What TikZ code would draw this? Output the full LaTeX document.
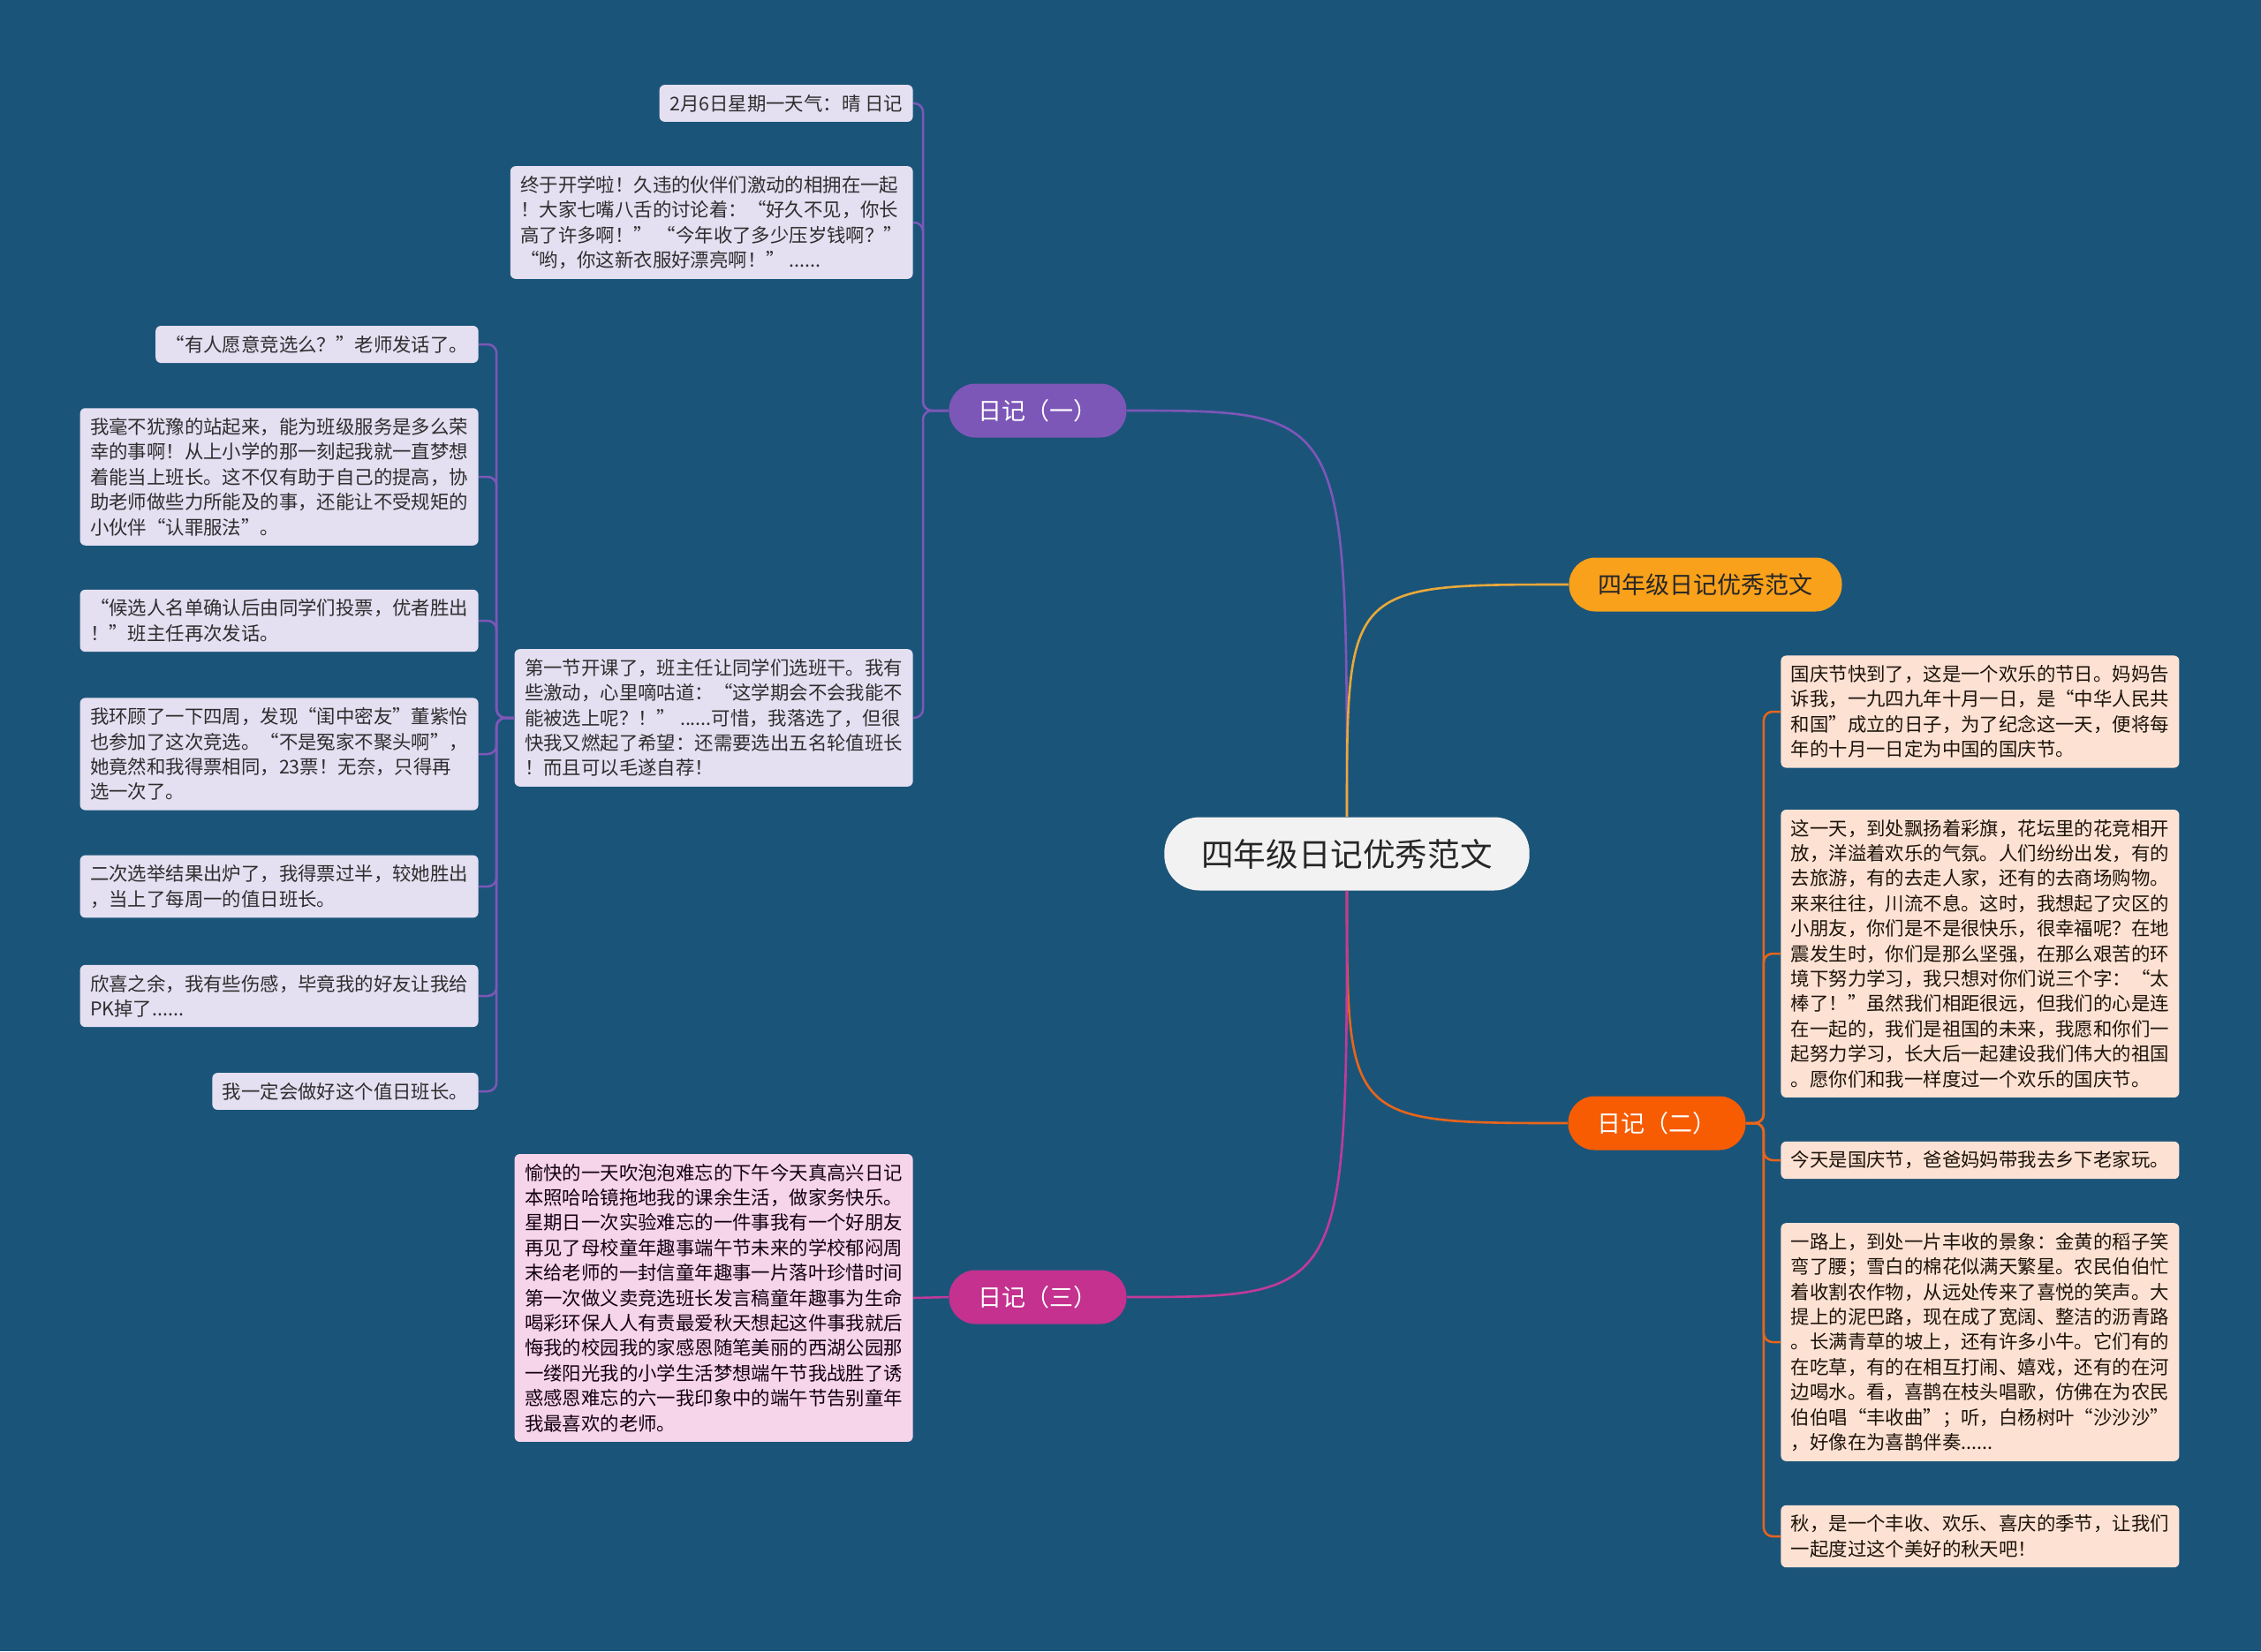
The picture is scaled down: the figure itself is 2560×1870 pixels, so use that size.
\documentclass[tikz,border=0pt]{standalone}
\usepackage{fontspec}
\setmainfont{Noto Sans CJK SC}
\definecolor{bg}{HTML}{1B5479}
\definecolor{rootfill}{HTML}{F2F2F2}
\definecolor{purp}{HTML}{7D57B8}
\definecolor{plight}{HTML}{E4DFF1}
\definecolor{yell}{HTML}{F9A11B}
\definecolor{yline}{HTML}{E9A93A}
\definecolor{oran}{HTML}{F75C03}
\definecolor{oline}{HTML}{E8651A}
\definecolor{olight}{HTML}{FDE2D4}
\definecolor{mag}{HTML}{C4318F}
\definecolor{mline}{HTML}{C13A9A}
\definecolor{mlight}{HTML}{F6D4EA}

\begin{document}
\begin{tikzpicture}[
  x=0.5pt, y=-0.5pt,
  root/.style={fill=rootfill, text=black!85, rounded corners=20pt, minimum height=41.5pt,
               inner xsep=21pt, font=\fontsize{18.3}{22}\selectfont},
  branch/.style={rounded corners=15pt, minimum height=30.5pt, inner xsep=16.5pt,
                 text=white, font=\fontsize{13.5}{16}\selectfont},
  leaf/.style={rounded corners=3pt, align=left, inner xsep=5.75pt, inner ysep=5.5pt,
               font=\fontsize{10.7}{14.2}\selectfont},
  pleaf/.style={leaf, fill=plight, text=black!82},
  oleaf/.style={leaf, fill=olight, text=black!85!brown},
  mleaf/.style={leaf, fill=mlight, text=black!85!violet},
  pedge/.style={draw=purp, line width=1.25pt, rounded corners=5pt},
  oedge/.style={draw=oline, line width=1.25pt, rounded corners=5pt},
  medge/.style={draw=mline, line width=1.25pt},
  curve/.style={line width=1.3pt},
]
\fill[bg] (0,0) rectangle (2560,1870);

% --- centre and main branches ---
\node[root] (root) at (1525,967) {四年级日记优秀范文};
\node[branch, fill=purp] (b1) at (1175,465) {日记（一）};
\node[branch, fill=yell, text=black!85] (b0) at (1931,662) {四年级日记优秀范文};
\node[branch, fill=oran] (b2) at (1876,1272) {日记（二）};
\node[branch, fill=mag] (b3) at (1175,1469) {日记（三）};

\draw[curve, purp] (root.north) .. controls (root.north |- b1.east) .. (b1.east);
\draw[curve, yline] (root.north) .. controls (root.north |- b0.west) .. (b0.west);
\draw[curve, oline] (root.south) .. controls (root.south |- b2.west) .. (b2.west);
\draw[curve, mline] (root.south) .. controls (root.south |- b3.east) .. (b3.east);

% --- 日记（一） ---
\node[pleaf, anchor=east] (l1) at (1034,117) {2月6日星期一天气：晴 日记};
\node[pleaf, anchor=east] (l2) at (1034,252) {终于开学啦！久违的伙伴们激动的相拥在一起\\！大家七嘴八舌的讨论着：“好久不见，你长\\高了许多啊！” “今年收了多少压岁钱啊？”\\ “哟，你这新衣服好漂亮啊！” ......};
\node[pleaf, anchor=east] (l3) at (1034,813) {第一节开课了，班主任让同学们选班干。我有\\些激动，心里嘀咕道：“这学期会不会我能不\\能被选上呢？！” ......可惜，我落选了，但很\\快我又燃起了希望：还需要选出五名轮值班长\\！而且可以毛遂自荐！};

\draw[pedge] (b1.west) -- ++(-29,0) |- (l1.east);
\draw[pedge] (b1.west) -- ++(-29,0) |- (l2.east);
\draw[pedge] (b1.west) -- ++(-29,0) |- (l3.east);

\node[pleaf, anchor=east] (c1) at (542,390) {“有人愿意竞选么？”老师发话了。};
\node[pleaf, anchor=east] (c2) at (542,540) {我毫不犹豫的站起来，能为班级服务是多么荣\\幸的事啊！从上小学的那一刻起我就一直梦想\\着能当上班长。这不仅有助于自己的提高，协\\助老师做些力所能及的事，还能让不受规矩的\\小伙伴“认罪服法”。};
\node[pleaf, anchor=east] (c3) at (542,703) {“候选人名单确认后由同学们投票，优者胜出\\！”班主任再次发话。};
\node[pleaf, anchor=east] (c4) at (542,854) {我环顾了一下四周，发现“闺中密友”董紫怡\\也参加了这次竞选。“不是冤家不聚头啊”，\\她竟然和我得票相同，23票！无奈，只得再\\选一次了。};
\node[pleaf, anchor=east] (c5) at (542,1004) {二次选举结果出炉了，我得票过半，较她胜出\\，当上了每周一的值日班长。};
\node[pleaf, anchor=east] (c6) at (542,1128) {欣喜之余，我有些伤感，毕竟我的好友让我给\\PK掉了......};
\node[pleaf, anchor=east] (c7) at (542,1236) {我一定会做好这个值日班长。};

\foreach \c in {c1,c2,c3,c4,c5,c6,c7}
  \draw[pedge] (l3.west) -- ++(-20,0) |- (\c.east);

% --- 日记（二） ---
\node[oleaf, anchor=west] (r1) at (2016,806) {国庆节快到了，这是一个欢乐的节日。妈妈告\\诉我，一九四九年十月一日，是“中华人民共\\和国”成立的日子，为了纪念这一天，便将每\\年的十月一日定为中国的国庆节。};
\node[oleaf, anchor=west] (r2) at (2016,1080) {这一天，到处飘扬着彩旗，花坛里的花竞相开\\放，洋溢着欢乐的气氛。人们纷纷出发，有的\\去旅游，有的去走人家，还有的去商场购物。\\来来往往，川流不息。这时，我想起了灾区的\\小朋友，你们是不是很快乐，很幸福呢？在地\\震发生时，你们是那么坚强，在那么艰苦的环\\境下努力学习，我只想对你们说三个字：“太\\棒了！”虽然我们相距很远，但我们的心是连\\在一起的，我们是祖国的未来，我愿和你们一\\起努力学习，长大后一起建设我们伟大的祖国\\。愿你们和我一样度过一个欢乐的国庆节。};
\node[oleaf, anchor=west] (r3) at (2016,1314) {今天是国庆节，爸爸妈妈带我去乡下老家玩。};
\node[oleaf, anchor=west] (r4) at (2016,1520) {一路上，到处一片丰收的景象：金黄的稻子笑\\弯了腰；雪白的棉花似满天繁星。农民伯伯忙\\着收割农作物，从远处传来了喜悦的笑声。大\\提上的泥巴路，现在成了宽阔、整洁的沥青路\\。长满青草的坡上，还有许多小牛。它们有的\\在吃草，有的在相互打闹、嬉戏，还有的在河\\边喝水。看，喜鹊在枝头唱歌，仿佛在为农民\\伯伯唱“丰收曲”；听，白杨树叶“沙沙沙”\\，好像在为喜鹊伴奏......};
\node[oleaf, anchor=west] (r5) at (2016,1740) {秋，是一个丰收、欢乐、喜庆的季节，让我们\\一起度过这个美好的秋天吧！};

\foreach \r in {r1,r2,r3,r4,r5}
  \draw[oedge] (b2.east) -- ++(20,0) |- (\r.west);

% --- 日记（三） ---
\node[mleaf, anchor=east] (d3) at (1034,1470) {愉快的一天吹泡泡难忘的下午今天真高兴日记\\本照哈哈镜拖地我的课余生活，做家务快乐。\\星期日一次实验难忘的一件事我有一个好朋友\\再见了母校童年趣事端午节未来的学校郁闷周\\末给老师的一封信童年趣事一片落叶珍惜时间\\第一次做义卖竞选班长发言稿童年趣事为生命\\喝彩环保人人有责最爱秋天想起这件事我就后\\悔我的校园我的家感恩随笔美丽的西湖公园那\\一缕阳光我的小学生活梦想端午节我战胜了诱\\惑感恩难忘的六一我印象中的端午节告别童年\\我最喜欢的老师。};

\draw[medge] (b3.west) -- (d3.east);

\end{tikzpicture}
\end{document}
